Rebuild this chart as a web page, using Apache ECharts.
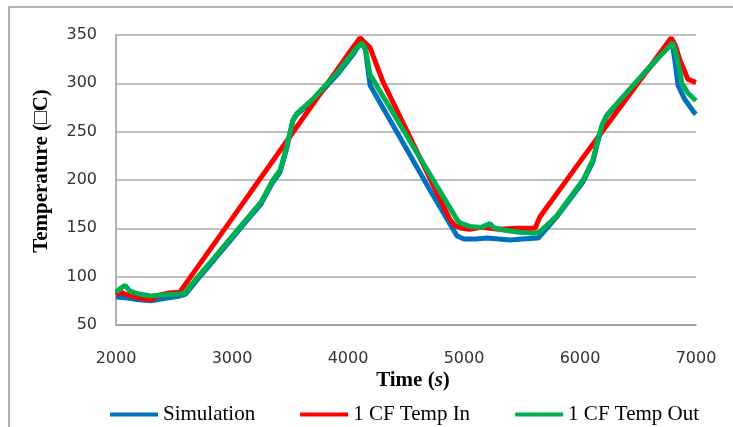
<!DOCTYPE html>
<html>
<head>
<meta charset="utf-8">
<script src="https://cdn.jsdelivr.net/npm/echarts@6/dist/echarts.min.js"></script>
<style>
html,body{margin:0;padding:0;background:#fff;}
#chart{width:733px;height:427px;}
</style>
</head>
<body>
<div id="chart"></div>
<script>
// Simulation
const simTime = [2000,2100,2200,2300,2400,2550,2600,2700,2850,2983,3100,3250,3353,3414,3470,3526,3560,3700,3900,4050,4110,4150,4190,4500,4700,4940,5000,5100,5200,5300,5400,5500,5640,5800,6026,6112,6150,6190,6230,6400,6600,6793,6820,6845,6900,6983,7000];
const simTemp = [79,78,76,75,77,80,82,97,118,137,154,175,198,208,232,262,268,282,308,331,343,335,298,233,191,142,139,139,140,139,138,139,140,162,198,219,238,255,266,289,316,343,322,298,284,270,268];
// 1 CF Temp In
const inTime = [2000,2040,2100,2200,2300,2380,2450,2550,3000,3500,4000,4103,4190,4300,4600,4879,4922,4980,5050,5150,5300,5450,5612,5655,6000,6400,6785,6820,6862,6931,7000];
const inTemp = [81,84,81,78,76,81,83,84,160,245,330,347,337,302,228,159,153,150,149,151,149,150,150,162,219,284,347,340,324,304,301];
// 1 CF Temp Out
const outTime = [2000,2040,2078,2120,2200,2300,2400,2560,2600,2700,2850,2983,3100,3250,3353,3414,3470,3526,3560,3700,3900,4050,4120,4150,4190,4500,4700,4940,4960,5050,5150,5224,5250,5350,5483,5612,5650,5800,6026,6112,6150,6190,6230,6400,6600,6800,6830,6862,6879,6930,7000];
const outTemp = [84,88,91,85,82,80,81,82,84,99,120,139,156,177,200,210,234,262,269,284,310,333,342,336,309,247,207,159,156,152,151,155,151,148,146,145,146,163,200,221,240,257,267,290,317,342,330,312,300,290,282];

const seriesNames = ['Simulation','1 CF Temp In','1 CF Temp Out'];
const seriesColors = ['#0070C0','#FF0000','#00B050'];
const xTicks = {min:2000, max:7000, step:1000};
const yTicks = {min:50, max:350, step:50};

function pairs(t, v){ return t.map((x,i)=>[x, v[i]]); }
const allData = [pairs(simTime, simTemp), pairs(inTime, inTemp), pairs(outTime, outTemp)];

const chart = echarts.init(document.getElementById('chart'), null, {renderer:'canvas'});
const tickFont = {fontFamily:'DejaVu Sans', fontSize:16, color:'#333'};
chart.setOption({
  animation:false,
  backgroundColor:'#fff',
  grid:{left:116, right:37, top:35, bottom:102, containLabel:false},
  xAxis:{
    type:'value', min:xTicks.min, max:xTicks.max, interval:xTicks.step,
    axisLine:{show:true, lineStyle:{color:'#999', width:1.5}},
    axisTick:{show:false},
    splitLine:{show:false},
    axisLabel:Object.assign({margin:26, formatter:(v)=>String(v)}, tickFont)
  },
  yAxis:{
    type:'value', min:yTicks.min, max:yTicks.max, interval:yTicks.step,
    axisLine:{show:true, lineStyle:{color:'#999', width:1.5}},
    axisTick:{show:false},
    splitLine:{show:true, lineStyle:{color:'#aaa', width:1.5}},
    axisLabel:Object.assign({margin:19, formatter:(v)=>String(v)}, tickFont)
  },
  legend:{
    left:105, top:399, itemGap:45, itemWidth:48, itemHeight:4, icon:'rect',
    textStyle:{fontFamily:'Liberation Serif', fontSize:21, color:'#000'},
    data:seriesNames
  },
  graphic:[
    {type:'rect', shape:{x:9, y:7, width:740, height:440}, style:{fill:'none', stroke:'#999', lineWidth:1.5}, silent:true, z:-1},
    {type:'text', x:413, y:381, style:{
      text:'{b|Time (}{i|s}{b|)}', align:'center', verticalAlign:'middle',
      rich:{b:{fontFamily:'Liberation Serif', fontWeight:'bold', fontSize:21, fill:'#000'},
            i:{fontFamily:'Liberation Serif', fontWeight:'bold', fontStyle:'italic', fontSize:21, fill:'#000'}}
    }},
    {type:'text', x:42, y:171, rotation:Math.PI/2, style:{
      text:'Temperature (\u25A1C)', align:'center', verticalAlign:'middle',
      fontFamily:'Liberation Serif', fontWeight:'bold', fontSize:21, fill:'#000'
    }}
  ],
  series: seriesNames.map((n,i)=>({
    name:n, type:'line', data:allData[i], showSymbol:false, smooth:false,
    lineStyle:{color:seriesColors[i], width:5},
    itemStyle:{color:seriesColors[i]},
    emphasis:{disabled:true}
  }))
});
</script>
</body>
</html>
